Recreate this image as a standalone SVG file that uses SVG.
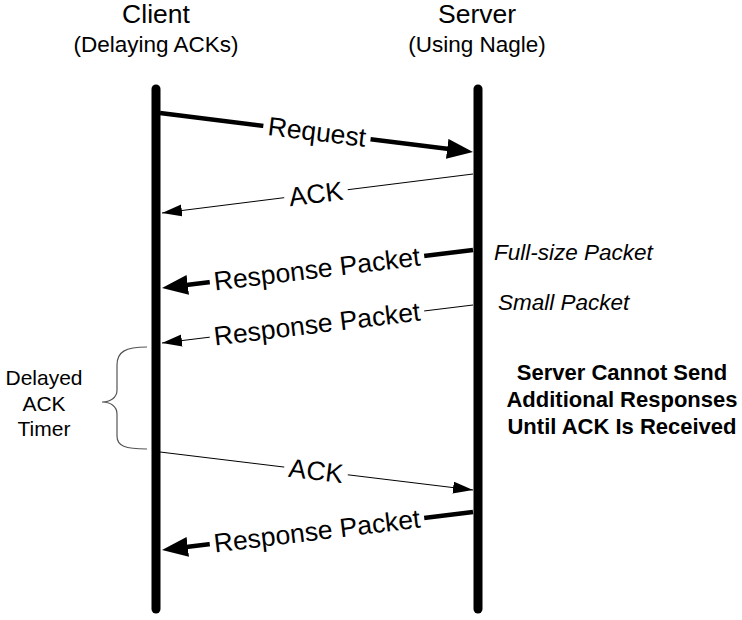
<svg xmlns="http://www.w3.org/2000/svg" width="742" height="620" viewBox="0 0 742 620">
<defs>
<style>
text{font-family:"Liberation Sans",Arial,sans-serif;fill:#000}
.hdr{font-size:26.5px;text-anchor:middle}
.sub{font-size:22.5px;text-anchor:middle}
.lbl{font-size:26.5px;text-anchor:middle}
.note{font-size:22.5px;font-style:italic}
.bold{font-size:22px;font-weight:bold;text-anchor:middle}
.side{font-size:21px;text-anchor:middle}
.life{stroke:#000;stroke-width:9;stroke-linecap:round}
.thick{stroke:#000;stroke-width:4.5;fill:none}
.thin{stroke:#000;stroke-width:1;fill:none}
.bg{fill:#fff}
</style>
<marker id="hb" markerUnits="userSpaceOnUse" markerWidth="28" markerHeight="22" refX="14" refY="10" orient="auto"><path d="M0,0 L26,10 L0,20 z" fill="#000"/></marker>
<marker id="hs" markerUnits="userSpaceOnUse" markerWidth="22" markerHeight="14" refX="20" refY="6" orient="auto"><path d="M0,0 L20,6 L0,12 z" fill="#000"/></marker>
</defs>
<rect width="742" height="620" fill="#fff"/>
<g id="client">
<text class="hdr" x="156" y="23">Client</text>
<text class="sub" x="156" y="52">(Delaying ACKs)</text>
<line class="life" x1="156" y1="89" x2="156" y2="609"/>
</g>
<g id="server">
<text class="hdr" x="477" y="23">Server</text>
<text class="sub" x="477" y="52">(Using Nagle)</text>
<line class="life" x1="478" y1="89" x2="478" y2="609"/>
</g>
<g id="connectors">
<line class="thick" x1="160" y1="113" x2="461.1" y2="150.55" marker-end="url(#hb)"/>
<line class="thin" x1="473" y1="174" x2="162" y2="213" marker-end="url(#hs)"/>
<line class="thick" x1="473" y1="250" x2="173.9" y2="286.5" marker-end="url(#hb)"/>
<line class="thin" x1="473" y1="305" x2="162" y2="343" marker-end="url(#hs)"/>
<line class="thin" x1="160" y1="452" x2="473" y2="490" marker-end="url(#hs)"/>
<line class="thick" x1="473" y1="512" x2="173.9" y2="548.5" marker-end="url(#hb)"/>
<g transform="translate(317,132) rotate(6.9)"><rect class="bg" x="-54" y="-14" width="108" height="28"/><text class="lbl" x="0" y="9">Request</text></g>
<g transform="translate(316,194) rotate(-7.1)"><rect class="bg" x="-32" y="-14" width="64" height="28"/><text class="lbl" x="0" y="9">ACK</text></g>
<g transform="translate(317,269) rotate(-6.95)"><rect class="bg" x="-108" y="-14" width="216" height="28"/><text class="lbl" x="0" y="9">Response Packet</text></g>
<g transform="translate(317,324) rotate(-6.95)"><rect class="bg" x="-108" y="-14" width="216" height="28"/><text class="lbl" x="0" y="9">Response Packet</text></g>
<g transform="translate(316,471) rotate(6.9)"><rect class="bg" x="-32" y="-14" width="64" height="28"/><text class="lbl" x="0" y="9">ACK</text></g>
<g transform="translate(317,531) rotate(-6.95)"><rect class="bg" x="-108" y="-14" width="216" height="28"/><text class="lbl" x="0" y="9">Response Packet</text></g>
</g>
<g id="notes">
<text class="note" x="494" y="260">Full-size Packet</text>
<text class="note" x="498" y="310">Small Packet</text>
<text class="bold" x="622" y="380">Server Cannot Send</text>
<text class="bold" x="622" y="407">Additional Responses</text>
<text class="bold" x="622" y="434">Until ACK Is Received</text>
</g>
<g id="timer">
<path d="M147,347 C125,347 117,352 117,365 L117,390 C117,398 110,402 102,402 C110,402 117,406 117,414 L117,436 C117,446 125,449 147,449" fill="none" stroke="#555" stroke-width="1.2"/>
<text class="side" x="44" y="385">Delayed</text>
<text class="side" x="44" y="411">ACK</text>
<text class="side" x="44" y="436">Timer</text>
</g>
</svg>
